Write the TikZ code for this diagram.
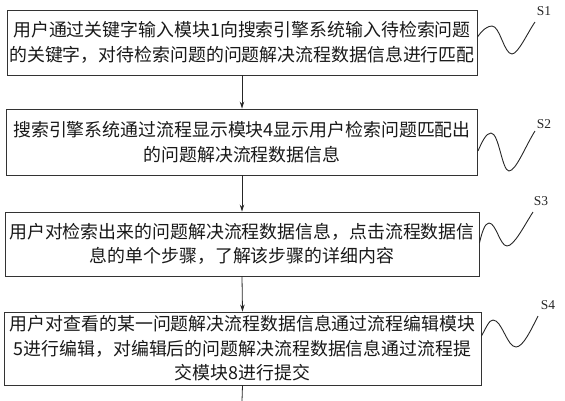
\documentclass[tikz,border=0pt]{standalone}
\usepackage{fontspec}
\setmainfont{Liberation Serif}
\newfontfamily\cjk{Noto Sans CJK SC}
\usetikzlibrary{arrows.meta,calc}
\begin{document}
\begin{tikzpicture}[x=1pt,y=-1pt,
  stepbox/.style={draw=black!80,line width=0.9pt,inner sep=1pt,align=center,
    font=\cjk\fontsize{17.9}{24.5}\selectfont,text=black!90},
  lab/.style={font=\fontsize{13.5}{14}\selectfont,inner sep=0pt,text=black!85},
  sq/.style={draw=black!85,line width=0.9pt},
  arr/.style={draw=black!85,line width=0.8pt,-{Stealth[length=7pt,width=4.5pt]}}]
\useasboundingbox (0,0) rectangle (565,400);
\node[stepbox,minimum width=470pt,minimum height=65pt] (b1) at (242,42.5)
  {用户通过关键字输入模块1向搜索引擎系统输入待检索问题\\的关键字，对待检索问题的问题解决流程数据信息进行匹配};
\node[stepbox,minimum width=471pt,minimum height=66pt] (b2) at (242,142)
  {搜索引擎系统通过流程显示模块4显示用户检索问题匹配出\\的问题解决流程数据信息};
\node[stepbox,minimum width=474pt,minimum height=64pt] (b3) at (242,244)
  {用户对检索出来的问题解决流程数据信息，点击流程数据信\\息的单个步骤，了解该步骤的详细内容};
\node[stepbox,minimum width=477pt,minimum height=73pt] (b4) at (242.5,348.5)
  {用户对查看的某一问题解决流程数据信息通过流程编辑模块\\5进行编辑，对编辑后的问题解决流程数据信息通过流程提\\交模块8进行提交};
\coordinate (bend) at (242,401);
\draw[arr] (b1.south) -- (b2.north);
\draw[arr] (b2.south) -- (b3.north);
\draw[arr] (b3.south) -- (b4.north);
\draw[draw=black!85,line width=0.8pt] (b4.south) -- (bend);
% labels
\node[lab] (l1) at (544,11) {S1};
\node[lab] (l2) at (544,124) {S2};
\node[lab] (l3) at (541,201) {S3};
\node[lab] (l4) at (548,305) {S4};
% squiggles
\coordinate (q1) at ($(b1.east)+(0,-5.5)$);
\draw[sq] (q1) .. controls (483,29) and (488,26) .. (492,26)
  .. controls (500,26) and (504,54) .. (512,54)
  .. controls (518,54) and (528,32) .. (535,22);
\coordinate (q2) at ($(b2.east)+(0,9)$);
\draw[sq] (q2) .. controls (482,142) and (486,133) .. (491,133)
  .. controls (499,133) and (502,171) .. (509,171)
  .. controls (516,171) and (526,145) .. (535,131);
\coordinate (q3) at ($(b3.east)+(0,-1)$);
\draw[sq] (q3) .. controls (482,232) and (485,223) .. (489,223)
  .. controls (496,223) and (500,246) .. (507,246)
  .. controls (514,246) and (524,226) .. (533,212);
\coordinate (q4) at ($(b4.east)+(0,-12.5)$);
\draw[sq] (q4) .. controls (486,328) and (489,320) .. (493,320)
  .. controls (502,320) and (507,347) .. (516,347)
  .. controls (523,347) and (531,330) .. (538,316);
\end{tikzpicture}
\end{document}
